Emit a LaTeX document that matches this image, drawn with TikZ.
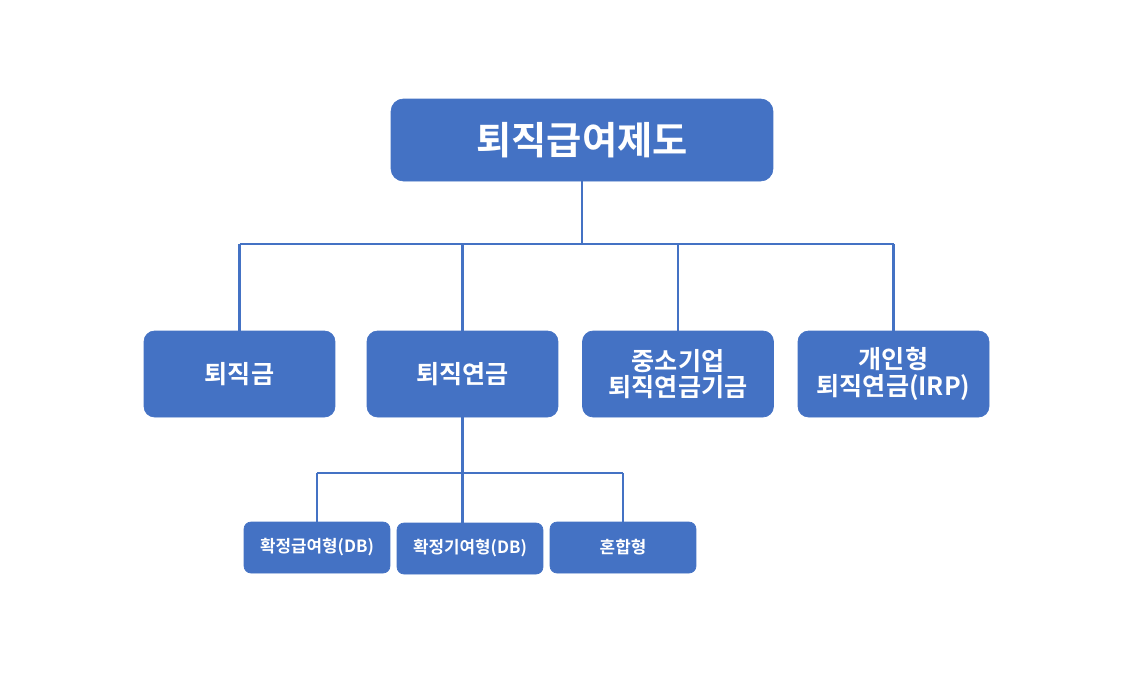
\documentclass[tikz,border=0pt]{standalone}
\usepackage{fontspec}
\setmainfont{Noto Sans CJK KR}[BoldFont={* Bold}]
\usetikzlibrary{positioning,calc}
\definecolor{bc}{RGB}{68,114,196}
\tikzset{top/.style={fill=bc,draw=bc,rounded corners=7pt,text=white,font=\bfseries\fontsize{21.8}{26}\selectfont,minimum width=7.64cm,minimum height=1.64cm},
 mid/.style={top,rounded corners=6pt,font=\bfseries\fontsize{14.3}{15}\selectfont,align=center,minimum width=3.82cm,minimum height=1.72cm},
 sub/.style={top,rounded corners=4pt,font=\bfseries\fontsize{9.6}{11}\selectfont,minimum width=2.92cm,minimum height=1.02cm},
 wire/.style={draw=bc,line width=1.3pt}}
\begin{document}
\begin{tikzpicture}[x=.02cm,y=-.02cm]
\useasboundingbox (0,0) rectangle (1141,698);
\node[top] (root) at (582,140) {퇴직급여제도};
\node[mid] (k1) at (239.5,374) {퇴직금};\node[mid] (k2) at (462.5,374) {퇴직연금};
\node[mid] (k3) at (678,374) {중소기업\\ 퇴직연금기금};\node[mid] (k4) at (893.5,374) {개인형\\ 퇴직연금(IRP)};
\node[sub] (s1) at (317,547.5) {확정급여형(DB)};\node[sub] (s2) at (470,548.5) {확정기여형(DB)};\node[sub] (s3) at (623,547.5) {혼합형};
\coordinate (bus1) at (0,244);\coordinate (bus2) at (0,473);
% first level
\draw[wire] (root.south) -- (root.south |- bus1);
\draw[wire] (k1.north |- bus1) -- (k4.north |- bus1);
\foreach \n in {k1,k2,k3,k4} \draw[wire] (\n.north) -- (\n.north |- bus1);
% second level
\draw[wire] (k2.south) -- (k2.south |- s2.north);
\draw[wire] (s1.north |- bus2) -- (s3.north |- bus2);
\foreach \n in {s1,s3} \draw[wire] (\n.north) -- (\n.north |- bus2);
\end{tikzpicture}
\end{document}
